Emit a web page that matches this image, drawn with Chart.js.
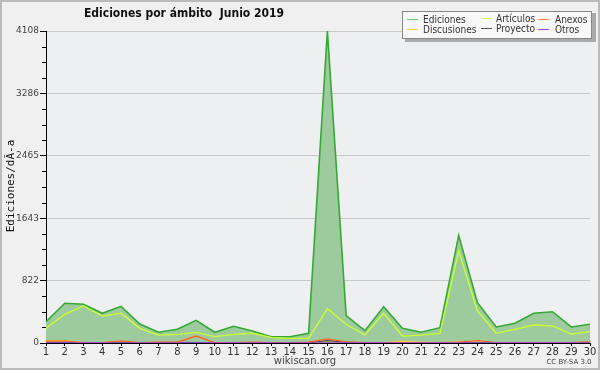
<!DOCTYPE html>
<html>
<head>
<meta charset="utf-8">
<script src="https://cdn.jsdelivr.net/npm/chart.js@4.4.1/dist/chart.umd.min.js"></script>
<style>
  html, body { margin: 0; padding: 0; background: #fff; }
  #wrap { width: 600px; height: 370px; }
</style>
</head>
<body>
<div id="wrap"><canvas id="chart" width="600" height="370"></canvas></div>
<script>
const days = Array.from({ length: 30 }, (_, i) => String(i + 1));

const ediciones = [280, 523, 510, 391, 483, 250, 141, 180, 299, 141, 220, 158, 83, 83, 128,
  4108, 360, 162, 478, 193, 141, 202, 1418, 531, 211, 259, 391, 412, 211, 246];
const articulos = [193, 378, 487, 355, 391, 193, 105, 114, 141, 83, 114, 128, 75, 62, 62,
  452, 246, 105, 391, 92, 105, 128, 1211, 421, 128, 180, 237, 224, 118, 149];
const anexos = [25, 25, 5, 5, 28, 5, 10, 10, 92, 5, 5, 12, 5, 5, 10,
  55, 15, 5, 5, 5, 5, 5, 10, 30, 5, 5, 5, 5, 5, 18];
const discusiones = [30, 32, 5, 5, 10, 5, 5, 5, 5, 5, 5, 5, 5, 5, 5,
  10, 5, 5, 5, 22, 10, 5, 15, 10, 5, 5, 5, 5, 5, 5];
const proyecto = [5, 5, 2, 2, 5, 2, 5, 8, 5, 2, 2, 2, 2, 2, 2,
  30, 10, 2, 5, 2, 2, 2, 5, 5, 2, 5, 5, 5, 2, 5];
const otros = new Array(30).fill(0);

const yTicks = [0, 822, 1643, 2465, 3286, 4108];

const seriesNames = ["Ediciones", "Discusiones", "Artículos", "Proyecto", "Anexos", "Otros"];
const seriesColors = ["#33aa33", "#ffcc33", "#ccff33", "#555555", "#ff6622", "#9944ee"];

const frame = {
  id: "frame",
  beforeDraw(chart) {
    const c = chart.ctx;
    c.save();
    c.fillStyle = "#f0f0f0";
    c.fillRect(0, 0, 600, 370);
    const a = chart.chartArea;
    c.fillStyle = "#eeeff1";
    c.fillRect(a.left, a.top, a.right - a.left, a.bottom - a.top);
    c.restore();
  },
  afterDraw(chart) {
    const c = chart.ctx;
    const a = chart.chartArea;
    const y = chart.scales.y;
    c.save();
    // minor ticks
    c.strokeStyle = "#000";
    c.lineWidth = 1;
    for (let i = 0; i < yTicks.length - 1; i++) {
      for (let k = 1; k < 4; k++) {
        const v = yTicks[i] + (yTicks[i + 1] - yTicks[i]) * k / 4;
        const py = Math.round(y.getPixelForValue(v)) + 0.5;
        c.beginPath();
        c.moveTo(a.left - 4, py);
        c.lineTo(a.left, py);
        c.stroke();
      }
    }
    // title
    c.fillStyle = "#111";
    c.font = "bold 12px 'DejaVu Sans Condensed', 'DejaVu Sans'";
    c.textAlign = "center";
    c.textBaseline = "middle";
    c.fillText("Ediciones por ámbito  Junio 2019", 184, 14);
    // y title
    c.save();
    c.translate(11, 186);
    c.rotate(-Math.PI / 2);
    c.font = "11px 'DejaVu Sans Mono'";
    c.fillText("Ediciones/dÃ-a", 0, 0);
    c.restore();
    // footer
    c.fillStyle = "#444";
    c.font = "10px 'DejaVu Sans'";
    c.fillText("wikiscan.org", 305, 361);
    c.font = "7px 'DejaVu Sans'";
    c.fillText("CC BY-SA 3.0", 569, 362);
    // legend
    c.fillStyle = "#aaa";
    c.fillRect(405, 13, 191, 29);
    c.fillStyle = "#f8f8f8";
    c.fillRect(402, 11, 190, 28);
    c.strokeStyle = "#888";
    c.strokeRect(402.5, 11.5, 189, 27);
    const items = [
      ["Ediciones", "#66cc66", 407, 19], ["Artículos", "#ccff66", 481, 18], ["Anexos", "#ff8844", 538, 19],
      ["Discusiones", "#ffcc33", 407, 29], ["Proyecto", "#555555", 481, 28], ["Otros", "#9944ee", 538, 29]
    ];
    c.font = "10px 'DejaVu Sans Condensed', 'DejaVu Sans'";
    c.textAlign = "left";
    items.forEach(([t, col, x, yy]) => {
      c.strokeStyle = col;
      c.lineWidth = 1;
      c.beginPath();
      c.moveTo(x, yy + 0.5);
      c.lineTo(x + 11, yy + 0.5);
      c.stroke();
      c.fillStyle = "#333";
      c.fillText(t, x + (x === 538 ? 17 : x === 481 ? 15 : 16), yy + 1);
    });
    // outer border
    c.strokeStyle = "#bbb";
    c.lineWidth = 2;
    c.strokeRect(1, 1, 598, 368);
    c.restore();
  }
};

const dataByName = {
  "Ediciones": ediciones, "Discusiones": discusiones, "Artículos": articulos,
  "Proyecto": proyecto, "Anexos": anexos, "Otros": otros
};

new Chart(document.getElementById("chart"), {
  type: "line",
  data: {
    labels: days,
    datasets: seriesNames.map((name, i) => ({
      label: name,
      data: dataByName[name],
      borderColor: seriesColors[i],
      backgroundColor: i === 0 ? "#9dcb9d" : "transparent",
      fill: i === 0 ? "origin" : false,
      borderWidth: i === 0 ? 1.6 : 1.3,
      pointRadius: 0,
      tension: 0,
      order: i === 0 ? 10 : 5 - i
    }))
  },
  options: {
    responsive: false,
    animation: false,
    layout: { padding: { left: 0, right: 10, top: 31, bottom: 0 } },
    plugins: { legend: { display: false }, tooltip: { enabled: false } },
    scales: {
      x: {
        offset: false,
        grid: { drawOnChartArea: false, drawTicks: true, tickLength: 3, color: "#000" },
        border: { color: "#000", width: 1 },
        ticks: { color: "#333", font: { family: "DejaVu Sans", size: 10 }, padding: 0, maxRotation: 0, autoSkip: false },
        afterFit: s => { s.height = 27; }
      },
      y: {
        min: 0,
        max: 4108,
        afterBuildTicks: s => { s.ticks = yTicks.map(v => ({ value: v })); },
        grid: { color: "#c8c8c8", tickColor: "#000", tickLength: 6 },
        border: { color: "#000", width: 1 },
        ticks: { color: "#444", font: { family: "DejaVu Sans", size: 9 }, padding: 1, callback: v => String(v) },
        afterFit: s => { s.width = 46; }
      }
    }
  },
  plugins: [frame]
});
</script>
</body>
</html>
